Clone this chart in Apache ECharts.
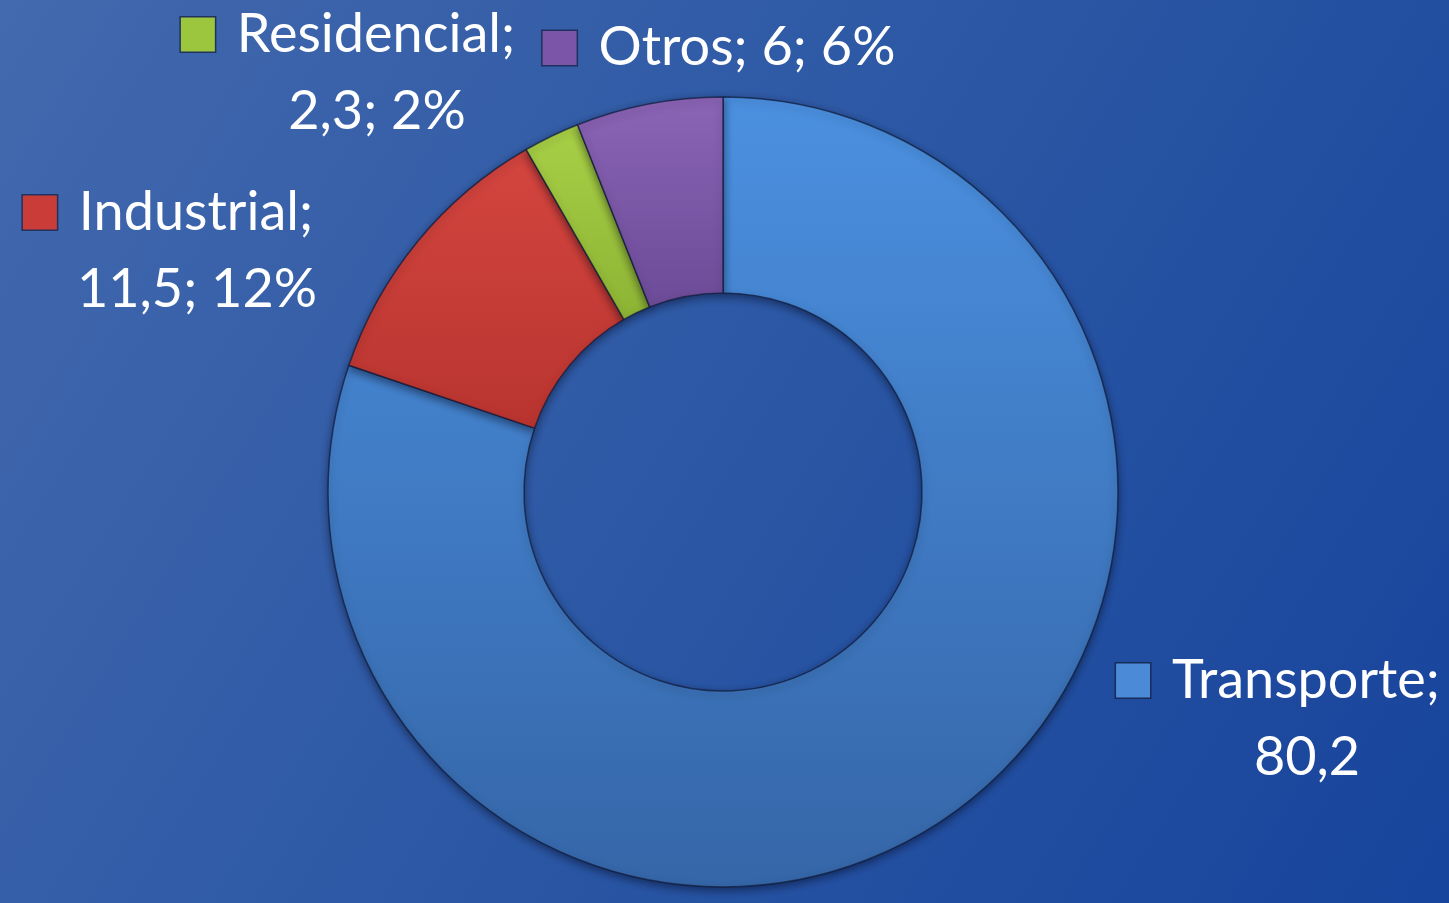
<!DOCTYPE html>
<html>
<head>
<meta charset="utf-8">
<script src="https://cdn.jsdelivr.net/npm/echarts@6/dist/echarts.min.js"></script>
<style>
  html, body { margin: 0; padding: 0; }
  #chart { width: 1449px; height: 903px; }
</style>
</head>
<body>
<div id="chart"></div>
<script>
// data
const sectors = ['Transporte', 'Industrial', 'Residencial', 'Otros']
const values = [80.2, 11.5, 2.3, 6]
// Transporte label in the original is cut after the value
const showPct = [false, true, true, true]
const twoLines = [true, true, true, false]

const fills = [
  ['#4b90e0', '#3566a8'],
  ['#d4453f', '#b9342f'],
  ['#a8d046', '#8db334'],
  ['#8b64b6', '#6c4b98']
]
const keyColors = ['#4a8ad6', '#c93c37', '#9cc63d', '#7b55a8']

// where each label sits (text centre)
const labelPos = {
  Transporte: [1307, 719],
  Industrial: [197, 251],
  Residencial: [377, 73],
  Otros: [748, 48]
}

const fmt = v => String(v).replace('.', ',')

const chart = echarts.init(document.getElementById('chart'))

const rich = {
  t: { color: '#fff', fontFamily: 'Lato', fontSize: 54, lineHeight: 77 },
  g: { width: 22 },
  sp: { width: 58 }
}
keyColors.forEach((c, i) => {
  rich['sq' + i] = {
    width: 34, height: 34,
    backgroundColor: c,
    borderColor: 'rgba(20,30,60,0.7)',
    borderWidth: 1.5
  }
})

chart.setOption({
  animation: false,
  backgroundColor: new echarts.graphic.LinearGradient(0, 0, 1, 1, [
    { offset: 0, color: '#4369ae' },
    { offset: 0.5, color: '#2b57a4' },
    { offset: 1, color: '#17449c' }
  ]),
  series: [{
    type: 'pie',
    center: [723, 492],
    radius: [199, 395],
    startAngle: 90,
    clockwise: true,
    avoidLabelOverlap: false,
    itemStyle: {
      borderColor: 'rgba(15,25,55,0.7)',
      borderWidth: 1.5,
      shadowColor: 'rgba(0,0,20,0.45)',
      shadowBlur: 8,
      shadowOffsetY: 3
    },
    label: {
      show: true,
      position: 'outside',
      align: 'center',
      formatter: p => {
        const i = p.dataIndex
        let s = '{sq' + i + '|}{g|}{t|' + p.name + ';}{sp|}'
        s += twoLines[i] ? '\n{t|' : '{t| '
        s += fmt(p.value)
        if (showPct[i]) s += '; ' + Math.round(p.percent) + '%'
        s += '}'
        if (!twoLines[i]) s = s.replace('{sp|}{t| ', '{t| ') + '{sp|}'
        return s
      },
      rich: rich
    },
    labelLine: { show: false },
    labelLayout: p => {
      const pos = labelPos[sectors[p.dataIndex]]
      return { x: pos[0], y: pos[1], align: 'center', verticalAlign: 'middle', moveOverlap: false }
    },
    data: sectors.map((name, i) => ({
      name: name,
      value: values[i],
      itemStyle: {
        color: new echarts.graphic.LinearGradient(0, 0, 0, 1, [
          { offset: 0, color: fills[i][0] },
          { offset: 1, color: fills[i][1] }
        ])
      }
    }))
  }]
})
</script>
</body>
</html>
